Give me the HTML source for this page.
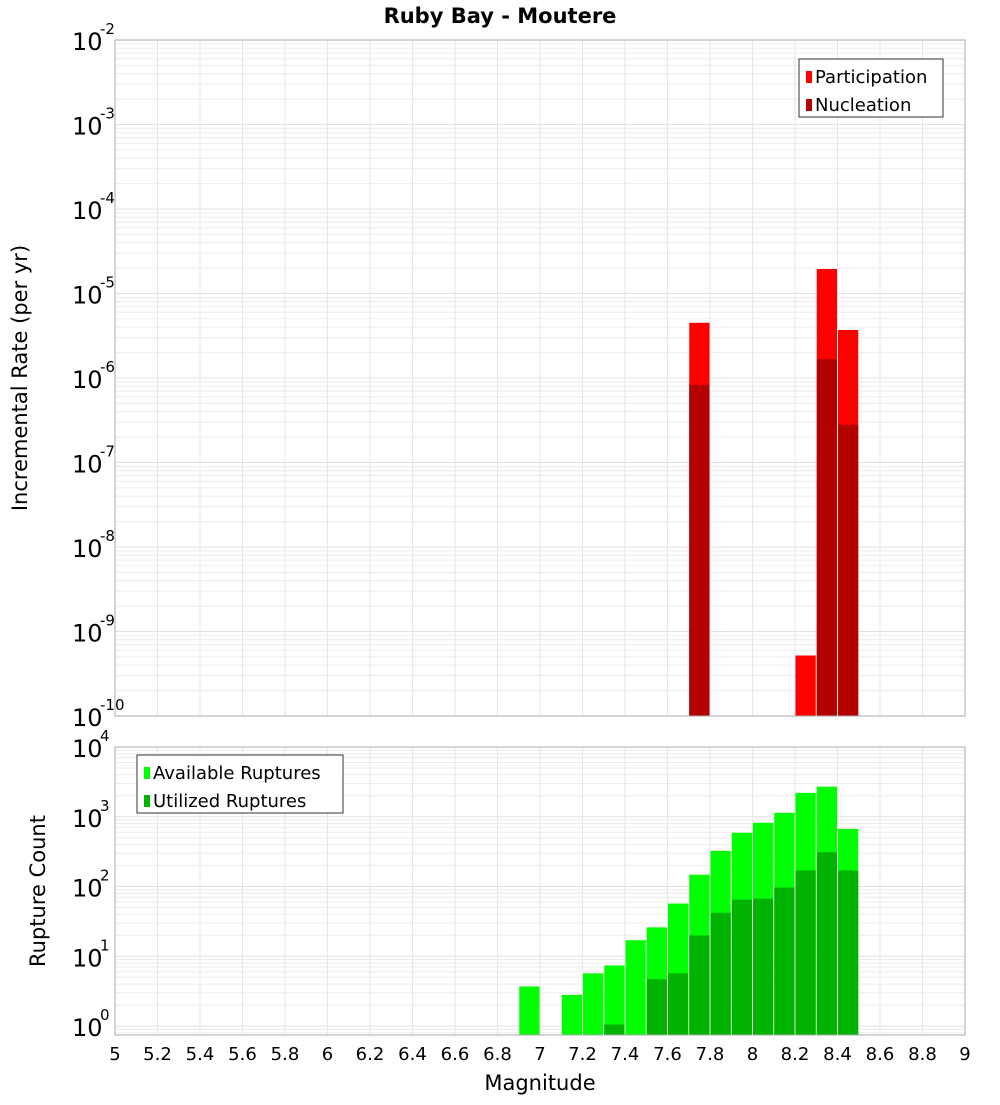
<!DOCTYPE html>
<html><head><meta charset="utf-8"><style>
body{margin:0;background:#fff;}
svg text{font-family:"DejaVu Sans","Liberation Sans",sans-serif;}
</style></head><body>
<svg id="chart" width="1000" height="1100" xmlns="http://www.w3.org/2000/svg"></svg>
<script>
const mags = [6.95,7.15,7.25,7.35,7.45,7.55,7.65,7.75,7.85,7.95,8.05,8.15,8.25,8.35,8.45];
const topMags = [7.75,8.25,8.35,8.45];
const participation = [4.5e-6,5.2e-10,1.95e-5,3.7e-6];
const nucleation = [8.3e-7,0,1.67e-6,2.8e-7];
const available = [3.7,2.8,5.7,7.4,17,26,57,148,325,590,820,1140,2200,2700,670];
const utilized = [0,0,0,1.05,0,4.7,5.7,20,42,65,67,97,170,310,170];
const xTicks = [5,5.2,5.4,5.6,5.8,6,6.2,6.4,6.6,6.8,7,7.2,7.4,7.6,7.8,8,8.2,8.4,8.6,8.8,9];
const topExps = [-2,-3,-4,-5,-6,-7,-8,-9,-10];
const botExps = [4,3,2,1,0];

const svg = document.getElementById('chart');
const NS = 'http://www.w3.org/2000/svg';
function mk(tag, attrs, parent){const e=document.createElementNS(NS,tag);for(const k in attrs)e.setAttribute(k,attrs[k]);(parent||svg).appendChild(e);return e;}
const L=115,R=965;
const x = v => L + (v-5)/4*(R-L);
const T1=40,B1=716; const yTop = v => T1 + (-2 - Math.log10(v))/8*(B1-T1);
const T2=747,B2=1035; const yMin=-0.128; const yBot = v => B2 - (Math.log10(v)-yMin)/(4-yMin)*(B2-T2);
const bw = x(5.1)-x(5);

// grids
function grid(T,B,yf,lo,hi){
  for(let e=lo;e<hi;e++){for(let m=1;m<10;m++){const v=m*Math.pow(10,e);const y=yf(v);if(y<T-0.5||y>B+0.5)continue;
    const g=mk('line',{x1:L,x2:R,y1:y,y2:y,stroke:m==1?'#e0e0e0':'#ececec','stroke-width':1});
    }}
  xTicks.forEach(t=>{const g=mk('line',{x1:x(t),x2:x(t),y1:T,y2:B,stroke:'#e6e6e6','stroke-width':1});
    });
}
grid(T1,B1,yTop,-10,-2);
grid(T2,B2,yBot,-1,4);

// top bars
topMags.forEach((m,i)=>{
  const p=mk('rect',{x:x(m)-bw/2+0.5,y:yTop(participation[i]),width:bw-1,height:B1-yTop(participation[i]),fill:'#ff0000'});
  
  if(nucleation[i]>0){const n=mk('rect',{x:x(m)-bw/2+0.5,y:yTop(nucleation[i]),width:bw-1,height:B1-yTop(nucleation[i]),fill:'#b30000'});
    }
});
// bottom bars
mags.forEach((m,i)=>{
  if(available[i]>0){const a=mk('rect',{x:x(m)-bw/2+0.5,y:yBot(available[i]),width:bw-1,height:B2-yBot(available[i]),fill:'#00ff00'});
    }
  if(utilized[i]>0){const u=mk('rect',{x:x(m)-bw/2+0.5,y:yBot(utilized[i]),width:bw-1,height:B2-yBot(utilized[i]),fill:'#00b300'});
    }
});

// frames
const f1=mk('rect',{x:L,y:T1,width:R-L,height:B1-T1,fill:'none',stroke:'#aaa'});

const f2=mk('rect',{x:L,y:T2,width:R-L,height:B2-T2,fill:'none',stroke:'#aaa'});


// y tick labels
function ylab(y,e,name){
  const t=mk('text',{x:72,y:y+10,'font-size':24,fill:'#000'});t.textContent='10';
  
  const s=mk('text',{x:100,y:y-6,'font-size':15,fill:'#000'});s.textContent=String(e);
  
}
topExps.forEach(e=>ylab(yTop(Math.pow(10,e)),e,'top-y-tick-label'));
botExps.forEach(e=>ylab(yBot(Math.pow(10,e)),e,'bottom-y-tick-label'));

// x tick labels
xTicks.forEach(t=>{const l=mk('text',{x:x(t),y:1060,'font-size':18,'text-anchor':'middle',fill:'#000'});
  l.textContent=String(t);});

// titles
const ti=mk('text',{x:500,y:23,'font-size':21,'font-weight':'bold','text-anchor':'middle'});ti.textContent='Ruby Bay - Moutere';

const xt=mk('text',{x:540,y:1090,'font-size':21,'text-anchor':'middle'});xt.textContent='Magnitude';

const yt1=mk('text',{x:0,y:0,'font-size':21,'text-anchor':'middle',transform:'translate(27,378) rotate(-90)'});yt1.textContent='Incremental Rate (per yr)';

const yt2=mk('text',{x:0,y:0,'font-size':21,'text-anchor':'middle',transform:'translate(45,891) rotate(-90)'});yt2.textContent='Rupture Count';


// legends
function legend(x0,y0,w,items,name){
  const g=mk('g',{});
  mk('rect',{x:x0,y:y0,width:w,height:58,fill:'#fff',stroke:'#333'},g);
  items.forEach((it,i)=>{
    const sw=mk('rect',{x:x0+7,y:y0+12+i*28,width:6,height:12,fill:it[1]},g);
    
    const t=mk('text',{x:x0+16,y:y0+24+i*28,'font-size':18},g);t.textContent=it[0];
    
  });
}
legend(799,59,144,[['Participation','#ff0000'],['Nucleation','#b30000']],'top-legend');
legend(137,755,206,[['Available Ruptures','#00ff00'],['Utilized Ruptures','#00b300']],'bottom-legend');
</script>
</body></html>
